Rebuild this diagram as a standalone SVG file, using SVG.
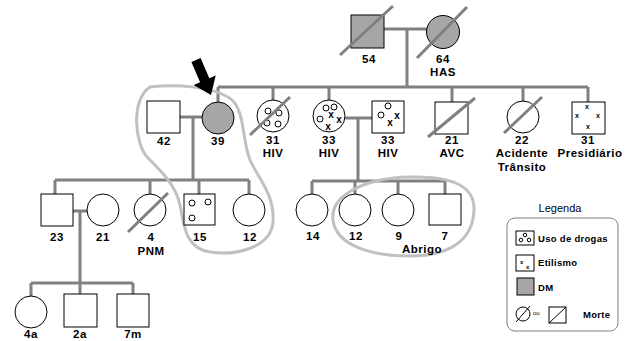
<svg xmlns="http://www.w3.org/2000/svg" width="629" height="341" viewBox="0 0 629 341">
<style>
.n{fill:#fff;stroke:#000;stroke-width:1}
.dm{fill:#a6a6a6;stroke:#000;stroke-width:1}
.ln{fill:none;stroke:#808080;stroke-width:3}
.dg{stroke:#808080;stroke-width:3;fill:none}
.lp{fill:none;stroke:#c0c0c0;stroke-width:3}
.sc{fill:#fff;stroke:#000;stroke-width:1}
text{font-family:"Liberation Sans",Arial,sans-serif;font-weight:bold;fill:#000}
.t{font-size:11.5px;text-anchor:middle;letter-spacing:0.5px}
.x{font-size:10px;text-anchor:middle}
.xs{font-size:7px;text-anchor:middle}
.lg{font-size:9.5px;letter-spacing:0.3px}
</style>
<rect width="629" height="341" fill="#fff"/>
<g id="connectors">
<path class="ln" d="M384 29H427M407 29V87M218 87H588M218 87V102M273 87V100M329 87V100M452 87V102M523 87V101M588 87V102"/>
<path class="ln" d="M180 117H202M193 117V180M55 180H249M55 180V194M150 180V194M199 180V194M249 180V194"/>
<path class="ln" d="M345 118H372M358 118V181M312 181H445M312 181V194M355 181V194M398 181V194M445 181V194"/>
<path class="ln" d="M73 211H87M80 211V283M31 283H133M31 283V296M80 283V294M133 283V294"/>
</g>
<g id="outlines">
<path class="lp" d="M150 87C175 84 215 86 232 100C245 112 242 140 250 160C258 178 275 195 273 222C271 248 235 256 210 252C185 248 184 225 180 205C176 185 160 170 148 158C135 145 130 100 150 87Z"/>
<path class="lp" d="M333 220C330 195 365 178 410 177C450 176 475 185 474 210C473 240 450 256 410 256C370 256 336 245 333 220Z"/>
</g>
<g id="n54"><rect class="dm" x="351" y="15" width="33" height="33"/><line class="dg" x1="340" y1="55" x2="393" y2="6"/><text class="t" x="369" y="63">54</text></g>
<g id="n64"><circle class="dm" cx="443" cy="32" r="16.5"/><line class="dg" x1="417" y1="58" x2="467" y2="7"/><text class="t" x="443" y="63">64</text><text class="t" x="443" y="76">HAS</text></g>
<g id="n42"><rect class="n" x="147" y="101" width="33" height="32"/><text class="t" x="164" y="145">42</text></g>
<g id="n39"><circle class="dm" cx="218" cy="118" r="16"/><text class="t" x="218" y="145">39</text></g>
<g id="arrow"><polygon fill="#000" points="191.4,62 200.6,58 209.3,78.2 215.7,75.5 211,95 193.7,84.9 200.1,82.2"/></g>
<g id="n31"><circle class="n" cx="273" cy="116" r="16"/><circle class="sc" cx="268" cy="111" r="3"/><circle class="sc" cx="279" cy="113" r="3"/><circle class="sc" cx="267" cy="123" r="3"/><circle class="sc" cx="278" cy="124" r="3"/><line class="dg" x1="250" y1="135" x2="290" y2="97"/><text class="t" x="273" y="144">31</text><text class="t" x="273" y="157">HIV</text></g>
<g id="n33f"><circle class="n" cx="329" cy="116" r="16"/><circle class="sc" cx="326" cy="108" r="3"/><circle class="sc" cx="334" cy="107" r="3"/><circle class="sc" cx="320" cy="119" r="3"/><text class="x" x="331" y="118">x</text><text class="x" x="339" y="123">x</text><text class="x" x="328" y="130">x</text><text class="t" x="329" y="144">33</text><text class="t" x="329" y="157">HIV</text></g>
<g id="n33m"><rect class="n" x="372" y="101" width="32" height="32"/><circle class="sc" cx="388" cy="106" r="3"/><circle class="sc" cx="381" cy="115" r="3"/><text class="x" x="397" y="119">x</text><text class="x" x="390" y="126">x</text><text class="t" x="388" y="144">33</text><text class="t" x="388" y="157">HIV</text></g>
<g id="n21avc"><rect class="n" x="435" y="102" width="33" height="32"/><line class="dg" x1="428" y1="137" x2="475" y2="98"/><text class="t" x="452" y="144">21</text><text class="t" x="452" y="157">AVC</text></g>
<g id="n22"><circle class="n" cx="523" cy="117" r="16"/><line class="dg" x1="504" y1="133" x2="542" y2="97"/><text class="t" x="522" y="144">22</text><text class="t" x="522" y="157">Acidente</text><text class="t" x="522" y="171">Trânsito</text></g>
<g id="n31p"><rect class="n" x="572" y="102" width="33" height="32"/><text class="xs" x="587" y="109">x</text><text class="xs" x="577" y="118">x</text><text class="xs" x="598" y="118">x</text><text class="xs" x="588" y="129">x</text><text class="t" x="588" y="144">31</text><text class="t" x="590" y="157">Presidiário</text></g>
<g id="n23"><rect class="n" x="41" y="194" width="32" height="32"/><text class="t" x="57" y="241">23</text></g>
<g id="n21"><circle class="n" cx="103" cy="210" r="16"/><text class="t" x="103" y="241">21</text></g>
<g id="n4"><circle class="n" cx="150" cy="210" r="16"/><line class="dg" x1="128" y1="232" x2="168" y2="193"/><text class="t" x="151" y="241">4</text><text class="t" x="151" y="255">PNM</text></g>
<g id="n15"><rect class="n" x="184" y="194" width="31" height="31"/><circle class="sc" cx="192" cy="203" r="3"/><circle class="sc" cx="208" cy="202" r="3"/><circle class="sc" cx="192" cy="218" r="3"/><text class="t" x="200" y="241">15</text></g>
<g id="n12a"><circle class="n" cx="249" cy="210" r="16"/><text class="t" x="250" y="241">12</text></g>
<g id="n14"><circle class="n" cx="312" cy="210" r="16"/><text class="t" x="313" y="240">14</text></g>
<g id="n12b"><circle class="n" cx="355" cy="210" r="16"/><text class="t" x="356" y="240">12</text></g>
<g id="n9"><circle class="n" cx="398" cy="210" r="16"/><text class="t" x="399" y="240">9</text></g>
<g id="n7"><rect class="n" x="429" y="194" width="32" height="31"/><text class="t" x="445" y="240">7</text><text class="t" x="422" y="253">Abrigo</text></g>
<g id="n4a"><circle class="n" cx="31" cy="312" r="16"/><text class="t" x="31" y="338">4a</text></g>
<g id="n2a"><rect class="n" x="64" y="294" width="33" height="33"/><text class="t" x="80" y="338">2a</text></g>
<g id="n7m"><rect class="n" x="117" y="294" width="32" height="33"/><text class="t" x="133" y="338">7m</text></g>
<g id="legend">
<text x="560" y="212" style="font-size:11px;text-anchor:middle;font-weight:normal">Legenda</text>
<rect x="507" y="218" width="111" height="113" rx="8" fill="#fff" stroke="#808080" stroke-width="1"/>
<rect class="n" x="516" y="231" width="18" height="14"/>
<circle class="sc" cx="521" cy="240" r="1.8"/><circle class="sc" cx="525" cy="235" r="1.8"/><circle class="sc" cx="529" cy="240" r="1.8"/>
<text class="lg" x="538" y="242">Uso de drogas</text>
<rect class="n" x="516" y="255" width="18" height="16"/>
<text x="520" y="264" style="font-size:6px">x</text><text x="526" y="269" style="font-size:6px">x</text>
<text class="lg" x="538" y="266">Etilismo</text>
<rect class="dm" x="517" y="278" width="17" height="17"/>
<text class="lg" x="538" y="291">DM</text>
<circle class="n" cx="523" cy="314" r="7"/><line stroke="#000" stroke-width="1" x1="516" y1="322" x2="530" y2="306"/>
<text x="533" y="315" style="font-size:6px;font-weight:normal">ou</text>
<rect class="n" x="549" y="307" width="17" height="16"/><line stroke="#000" stroke-width="1" x1="549" y1="323" x2="566" y2="307"/>
<text class="lg" x="583" y="318">Morte</text>
</g>
</svg>
